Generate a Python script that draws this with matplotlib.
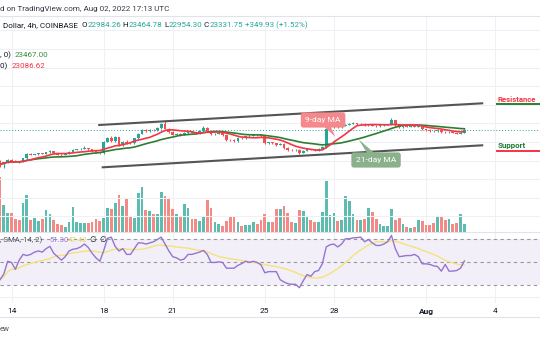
import matplotlib
matplotlib.use('Agg')
import matplotlib.pyplot as plt
from matplotlib.lines import Line2D
import numpy as np
import pandas as pd

plt.rcParams['font.family'] = ['Roboto', 'DejaVu Sans']

W, H = 540, 340

# 4h candles, x axis in days of July 2022 (32 = Aug 1)
first_candle = 13.5
open0 = 19950
closes = [19600, 19820, 20050, 19980, 19900, 19850, 20250, 20700, 20620, 20700,
          20780, 20720, 20900, 21030, 20780, 20650, 20600, 20700, 20950, 21150,
          21200, 21250, 21330, 21220, 21000, 20850, 20800, 22050, 22400, 22150,
          22500, 21650, 22050, 21900, 21850, 22400, 22900, 23250, 23150, 23300,
          23250, 23500, 23900, 23450, 23100, 22800, 22880, 22750, 22950, 23100,
          23000, 22950, 23150, 23550, 23150, 22850, 22900, 22950, 22700, 22250,
          22200, 22100, 22450, 22400, 22600, 22650, 22750, 22700, 22650, 21850,
          21950, 21850, 21700, 21800, 21400, 21150, 21100, 21150, 20850, 21050,
          21250, 21200, 21100, 21250, 21450, 23400, 23600, 23700, 23600, 23750,
          23850, 23950, 24000, 23900, 23980, 23800, 23900, 23750, 23700, 23780,
          23850, 23900, 24350, 23800, 23600, 23700, 23650, 23720, 23650, 23750,
          23350, 23300, 23200, 23150, 23300, 23100, 23050, 23100, 22990, 22900,
          22984.26, 23331.75]
highs = [20050, 19900, 20120, 20150, 20060, 19990, 20300, 20780, 20790, 20760,
         20850, 20860, 20950, 21100, 21080, 20820, 20700, 20760, 21000, 21250,
         21290, 21330, 21560, 21400, 21260, 21050, 20930, 22150, 22500, 22650,
         22600, 22580, 22150, 22200, 22000, 22450, 23000, 23350, 23380, 23400,
         23420, 23600, 24050, 24280, 23550, 23150, 22980, 22950, 23050, 23200,
         23180, 23080, 23250, 23750, 23650, 23200, 23000, 23050, 23000, 22750,
         22350, 22300, 22520, 22550, 22680, 22750, 22850, 22820, 22780, 22700,
         22050, 22020, 21900, 21880, 21850, 21450, 21200, 21220, 21200, 21120,
         21330, 21300, 21260, 21320, 21520, 23550, 23700, 23800, 23760, 23850,
         23960, 24050, 24150, 24080, 24050, 24020, 23980, 23950, 23800, 23850,
         23920, 23980, 24600, 24400, 23850, 23780, 23760, 23800, 23780, 23830,
         23800, 23420, 23380, 23280, 23380, 23350, 23180, 23170, 23150, 23050,
         23060, 23464.78]
lows = [19350, 19250, 19780, 19900, 19820, 19760, 19820, 20200, 20560, 20580,
        20650, 20680, 20700, 20860, 20720, 20600, 20540, 20560, 20660, 20900,
        21100, 21150, 21200, 21150, 20920, 20780, 20750, 20760, 21950, 22050,
        22050, 21550, 21600, 21800, 21750, 21800, 22350, 22850, 23050, 23100,
        23150, 23200, 23450, 23400, 23000, 22700, 22720, 22650, 22700, 22900,
        22920, 22880, 22900, 23100, 23050, 22750, 22780, 22850, 22600, 22150,
        22100, 22000, 22050, 22320, 22350, 22550, 22600, 22620, 22560, 21750,
        21780, 21780, 21600, 21650, 21300, 21050, 21000, 21050, 20720, 20800,
        21000, 21120, 21020, 21050, 21200, 21400, 23300, 23550, 23500, 23550,
        23700, 23800, 23900, 23820, 23850, 23720, 23750, 23680, 23620, 23650,
        23740, 23800, 23850, 23700, 23500, 23550, 23580, 23600, 23580, 23600,
        23250, 23220, 23120, 23080, 23100, 23020, 22980, 22990, 22920, 22820,
        22850, 22954.30]
volumes = [5500, 2730, 1900, 1900, 1270, 1200, 2900, 3730, 1170, 1400,
           1100, 1270, 2170, 1830, 1230, 800, 730, 500, 970, 2500,
           1030, 900, 900, 930, 1000, 1270, 1100, 1430, 2400, 2270,
           2900, 3700, 2600, 3430, 1470, 1400, 3930, 4470, 2170, 2100,
           1800, 1800, 3970, 3630, 3270, 2270, 1770, 1500, 2800, 2370,
           1270, 1270, 1070, 1570, 3170, 2400, 1030, 800, 570, 1070,
           1500, 1500, 1000, 600, 730, 670, 970, 830, 1230, 1770,
           970, 1030, 2330, 2330, 2600, 1930, 970, 930, 2230, 2070,
           1630, 1170, 1030, 1030, 2000, 5070, 1670, 1930, 1100, 1170,
           3570, 3130, 1770, 1170, 1230, 1270, 2400, 2000, 1270, 830,
           600, 600, 2330, 1170, 1400, 770, 470, 400, 470, 1170,
           1070, 670, 670, 900, 1570, 1570, 1170, 1270, 770, 930,
           1770, 770]
rsi = [35, 40, 51, 50, 44, 52, 57, 56, 57, 59,
       60, 59, 62, 64, 58, 55, 52, 55, 60, 61.5,
       62, 63.5, 66, 63, 58, 54, 51, 60, 71, 72,
       64, 60, 62, 57, 57, 62, 67, 67, 66, 67,
       68, 70, 72, 66, 60, 55, 54, 52, 53, 57,
       57, 58, 59, 60.5, 57, 50, 50, 50.5, 50, 45,
       45, 45, 47.5, 49, 51, 50, 51, 50, 48, 41,
       42, 42, 42, 35, 33, 31.5, 31, 31, 28, 34,
       39.5, 38, 42, 43, 49, 63.5, 65.4, 66, 63.5, 66,
       70.6, 70.6, 71.4, 71.6, 72, 68, 70, 67, 64.8, 64.8,
       66, 68, 73.5, 62, 55, 55.5, 56, 56, 57, 55,
       48.8, 48.8, 48.3, 47, 46.5, 42.4, 48.3, 42.4, 42.5, 43,
       45, 51.3]

day_ticks = [14, 18, 21, 25, 28, 32, 35]
day_labels = ['14', '18', '21', '25', '28', 'Aug', '4']
price_grid = [14000, 16000, 18000, 20000, 22000, 24000, 26000, 28000, 30000, 32000, 34000]

# drawn trend channel (day, price)
upper_x, upper_y = [17.81, 34.44], [23828, 26160]
lower_x, lower_y = [17.96, 34.44], [19280, 21645]

UP, DOWN = '#26a69a', '#ef5350'
VUP, VDOWN = '#5dbcb0', '#f38a85'
GRID = '#eef0f5'
DARK = '#131722'

n = len(closes)
t = first_candle + np.arange(n) / 6.0
opens = [open0] + closes[:-1]
rising = np.array(closes) >= np.array(opens)
ma9 = pd.Series(closes).rolling(9, min_periods=1).mean()
ma21 = pd.Series(closes).rolling(21, min_periods=1).mean()
rsi_ma = pd.Series(rsi).rolling(14, min_periods=1).mean()


def fy(py):
    return 1 - py / H


fig = plt.figure(figsize=(W / 100, H / 100), dpi=100)
ax_vol = fig.add_axes([0, fy(232), 1, (232 - 16) / H])
ax = fig.add_axes([0, fy(232), 1, (232 - 16) / H], sharex=ax_vol)
ax.patch.set_alpha(0)
ax_rsi = fig.add_axes([0, fy(303), 1, (303 - 232) / H], sharex=ax_vol)

xlim = (13.5, 36.95)
for a in (ax_vol, ax, ax_rsi):
    for s in a.spines.values():
        s.set_visible(False)
    a.set_xticks(day_ticks)
    a.tick_params(length=0)
    a.set_yticks([])

# volume + grid
ax_vol.bar(t, volumes, width=0.72 / 6, color=np.where(rising, VUP, VDOWN), zorder=2)
ax_vol.set_ylim(0, 21600)
ax_vol.set_xlim(*xlim)
for xx in day_ticks:
    ax_vol.axvline(xx, color=GRID, lw=0.8, zorder=0)
ax_vol.tick_params(labelbottom=False)
for yy in price_grid:
    ax.axhline(yy, color=GRID, lw=0.8, zorder=0)

# candles
colors = np.where(rising, UP, DOWN)
ax.vlines(t, lows, highs, color=colors, lw=0.8, zorder=3)
body_lo = np.minimum(opens, closes)
body_h = np.maximum(np.abs(np.array(closes) - np.array(opens)), 50)
ax.bar(t, body_h, bottom=body_lo, width=0.72 / 6, color=colors, zorder=4)
ax.plot(t, ma21, color='#2e7d32', lw=1.2, zorder=5)
ax.plot(t, ma9, color='#f23645', lw=1.2, zorder=5)
ax.axhline(closes[-1], color=UP, lw=0.7, ls=(0, (1, 2)), zorder=2)
ax.plot(upper_x, upper_y, color='#555555', lw=1.5, zorder=6)
ax.plot(lower_x, lower_y, color='#555555', lw=1.5, zorder=6)
ax.set_ylim(12325, 35545)
ax.set_xlim(*xlim)
ax.tick_params(labelbottom=False)

ax.annotate('9-day MA', xy=(28.13, 22320), xytext=(27.53, 24365), ha='center', va='center',
            fontsize=6, color='white', zorder=8,
            bbox=dict(boxstyle='round,pad=0.55,rounding_size=0.3', fc='#f4888d', ec='none'),
            arrowprops=dict(arrowstyle='wedge,tail_width=0.9,shrink_factor=0.5', fc='#f4888d', ec='none',
                            patchA=None))
ax.annotate('21-day MA', xy=(29.0, 22500), xytext=(29.83, 20065), ha='center', va='center',
            fontsize=6, color='white', zorder=8,
            bbox=dict(boxstyle='round,pad=0.55,rounding_size=0.3', fc='#8bb08c', ec='none'),
            arrowprops=dict(arrowstyle='wedge,tail_width=0.9,shrink_factor=0.5', fc='#8bb08c', ec='none',
                            patchA=None))

ax.text(35.1, 26515, 'Resistance', color='#f23645', fontsize=5.6, fontweight='bold',
        va='center', ha='left', zorder=8)
ax.plot([35.1, 37.5], [26085, 26085], color='#2e7d32', lw=1.4, zorder=8, clip_on=False)
ax.text(35.1, 21677, 'Support', color='#1e7b34', fontsize=5.8, fontweight='bold',
        va='center', ha='left', zorder=8)
ax.plot([35.1, 37.5], [21032, 21032], color='#f23645', lw=1.4, zorder=8, clip_on=False)

# RSI pane
ax_rsi.axhspan(30, 70, color='#7e57c2', alpha=0.09, lw=0, zorder=0)
for yy in [20, 40, 60]:
    ax_rsi.axhline(yy, color=GRID, lw=0.8, zorder=1)
for xx in day_ticks:
    ax_rsi.axvline(xx, color=GRID, lw=0.8, zorder=1)
for yy in [30, 50, 70]:
    ax_rsi.axhline(yy, color='#9598a1', lw=0.8, ls=(0, (3, 3)), zorder=2)
ax_rsi.plot(t, rsi_ma, color='#f5e27a', lw=1.0, zorder=3)
ax_rsi.plot(t, rsi, color='#9575cd', lw=1.0, zorder=4)
ax_rsi.set_ylim(14.7, 76.5)
ax_rsi.set_xlim(*xlim)
ax_rsi.set_xticklabels(day_labels)
ax_rsi.tick_params(axis='x', labelsize=6, labelcolor=DARK, pad=3.5)
for lbl in ax_rsi.get_xticklabels():
    if lbl.get_text() == 'Aug':
        lbl.set_fontweight('bold')

# separators
for py in (16, 232, 317):
    fig.add_artist(Line2D([0, 1], [fy(py), fy(py)], color='#e0e3eb', lw=0.8))

# header and legends
renderer = fig.canvas.get_renderer()


def write_row(x, py, pieces, size=5.8):
    for txt, col in pieces:
        tx = fig.text(x / W, fy(py), txt, color=col, fontsize=size, va='center', ha='left')
        x += tx.get_window_extent(renderer=renderer).width


write_row(0, 9, [('d on TradingView.com, Aug 02, 2022 17:13 UTC', '#363a45')])
write_row(3, 25, [('Dollar, 4h, COINBASE  ', DARK), ('O', DARK), ('22984.26', UP), (' H', DARK),
                  ('23464.78', UP), (' L', DARK), ('22954.30', UP), (' C', DARK),
                  ('23331.75', UP), (' +349.93 (+1.52%)', UP)])
write_row(0, 55, [(', 0)  ', DARK), ('23467.00', '#388e3c')])
write_row(0, 66, [('0)  ', DARK), ('23086.62', '#f23645')])

rsi_legend = [(0, ', SMA, 14, 2)', '#50535e'), (49, '51.30', '#9575cd'), (68, '47.42', '#e9d45a'),
              (89, '∅', DARK), (99, '∅', DARK)]
for px, txt, col in rsi_legend:
    fig.text(px / W, fy(240), txt, color=col, fontsize=5.6, va='center', ha='left')
fig.text(0, fy(329), 'ew', color='#50535e', fontsize=5.6, va='center', ha='left')

fig.savefig('out.png', dpi=100)
